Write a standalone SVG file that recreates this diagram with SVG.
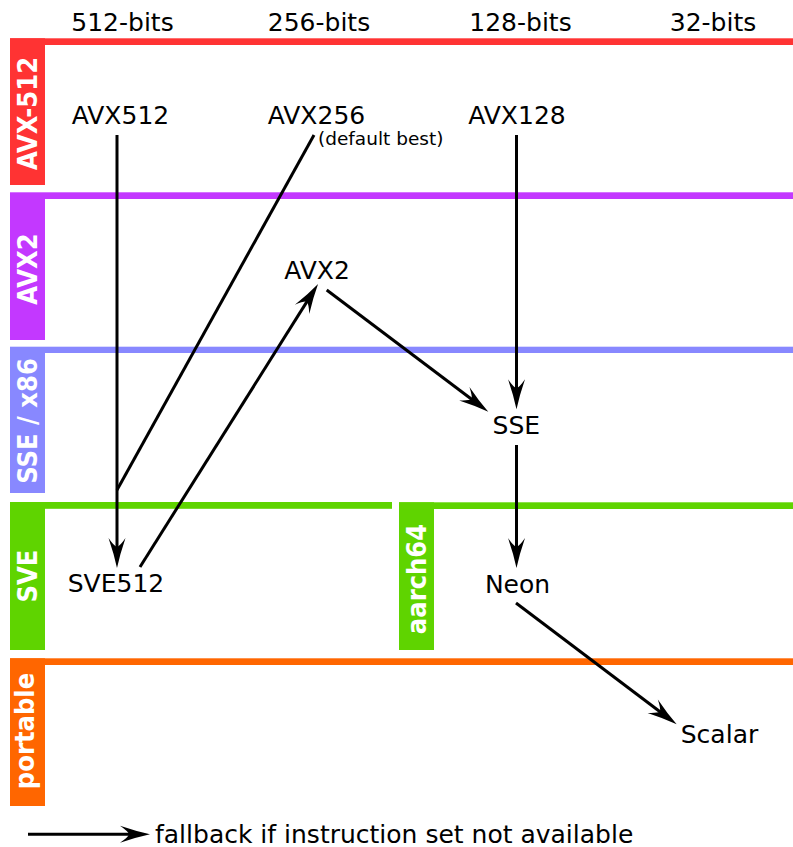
<svg xmlns="http://www.w3.org/2000/svg" width="793" height="847" viewBox="0 0 793 847">
<style>
.t{font-family:"DejaVu Sans","Liberation Sans",sans-serif;font-size:25px;fill:#000}
.c{text-anchor:middle}
.s{font-size:18.5px}
.lab{font-family:"DejaVu Sans Condensed","DejaVu Sans",sans-serif;font-weight:bold;font-size:27px;fill:#fff;text-anchor:middle}
.ln{stroke:#000;stroke-width:3;fill:none}
.ar{marker-end:url(#ah)}
</style>
<defs>
<marker id="ah" markerUnits="userSpaceOnUse" markerWidth="40" markerHeight="30" refX="0" refY="0" orient="auto" overflow="visible">
<path d="M20,0 Q6,-3 -10,-8.5 Q-2,-3 -1,0 Q-2,3 -10,8.5 Q6,3 20,0 Z" fill="#000"/>
</marker>
</defs>
<rect width="793" height="847" fill="#fff"/>
<g id="bands">
<g id="band-avx512"><rect x="10" y="38.3" width="783" height="6.7" fill="#ff3333"/><rect x="10" y="38.3" width="35" height="146.7" fill="#ff3333"/><text class="lab" transform="translate(37,113.5) rotate(-90)">AVX-512</text></g>
<g id="band-avx2"><rect x="10" y="192.3" width="783" height="6.7" fill="#c338ff"/><rect x="10" y="193" width="35" height="147" fill="#c338ff"/><text class="lab" transform="translate(37,269) rotate(-90)">AVX2</text></g>
<g id="band-sse"><rect x="10" y="346.7" width="783" height="6.3" fill="#8888ff"/><rect x="10" y="347" width="35" height="146" fill="#8888ff"/><text class="lab" transform="translate(37,421) rotate(-90)">SSE / x86</text></g>
<g id="band-sve"><rect x="10" y="502" width="382" height="6.8" fill="#5fd400"/><rect x="10" y="502" width="35" height="148" fill="#5fd400"/><text class="lab" transform="translate(37,576) rotate(-90)">SVE</text></g>
<g id="band-aarch64"><rect x="399" y="502.3" width="394" height="6.7" fill="#5fd400"/><rect x="399" y="502.3" width="35" height="147.7" fill="#5fd400"/><text class="lab" transform="translate(425.5,579) rotate(-90)">aarch64</text></g>
<g id="band-portable"><rect x="10" y="658.3" width="783" height="6.7" fill="#ff6600"/><rect x="10" y="658.3" width="35" height="147.7" fill="#ff6600"/><text class="lab" transform="translate(34,731) rotate(-90)">portable</text></g>
</g>
<g id="headers">
<text class="t c" x="122.5" y="31">512-bits</text>
<text class="t c" x="319" y="31">256-bits</text>
<text class="t c" x="520.5" y="30.5">128-bits</text>
<text class="t c" x="713" y="30.5">32-bits</text>
</g>
<g id="connectors">
<line class="ln ar" x1="117" y1="135" x2="117" y2="548"/>
<line class="ln" x1="314" y1="135" x2="117" y2="490"/>
<line class="ln ar" x1="140" y1="567" x2="307.4" y2="300.9"/>
<line class="ln ar" x1="326.7" y1="290" x2="472.3" y2="399.7"/>
<line class="ln ar" x1="516.5" y1="135" x2="516.5" y2="389.3"/>
<line class="ln ar" x1="516.5" y1="445" x2="516.5" y2="548"/>
<line class="ln ar" x1="516" y1="603" x2="660.7" y2="712.2"/>
<line class="ln ar" x1="28" y1="834.3" x2="130" y2="834.3"/>
</g>
<g id="node-avx512"><text class="t c" x="120.5" y="124">AVX512</text></g>
<g id="node-avx256"><text class="t c" x="316.5" y="124">AVX256</text><text class="t s" x="318" y="145">(default best)</text></g>
<g id="node-avx128"><text class="t c" x="517" y="124">AVX128</text></g>
<g id="node-avx2"><text class="t c" x="317" y="279">AVX2</text></g>
<g id="node-sse"><text class="t c" x="516.3" y="434">SSE</text></g>
<g id="node-sve512"><text class="t c" x="116" y="591.5">SVE512</text></g>
<g id="node-neon"><text class="t c" x="517.5" y="592.5">Neon</text></g>
<g id="node-scalar"><text class="t c" x="719.5" y="742.7">Scalar</text></g>
<g id="legend"><text class="t" x="155" y="843">fallback if instruction set not available</text></g>
</svg>
